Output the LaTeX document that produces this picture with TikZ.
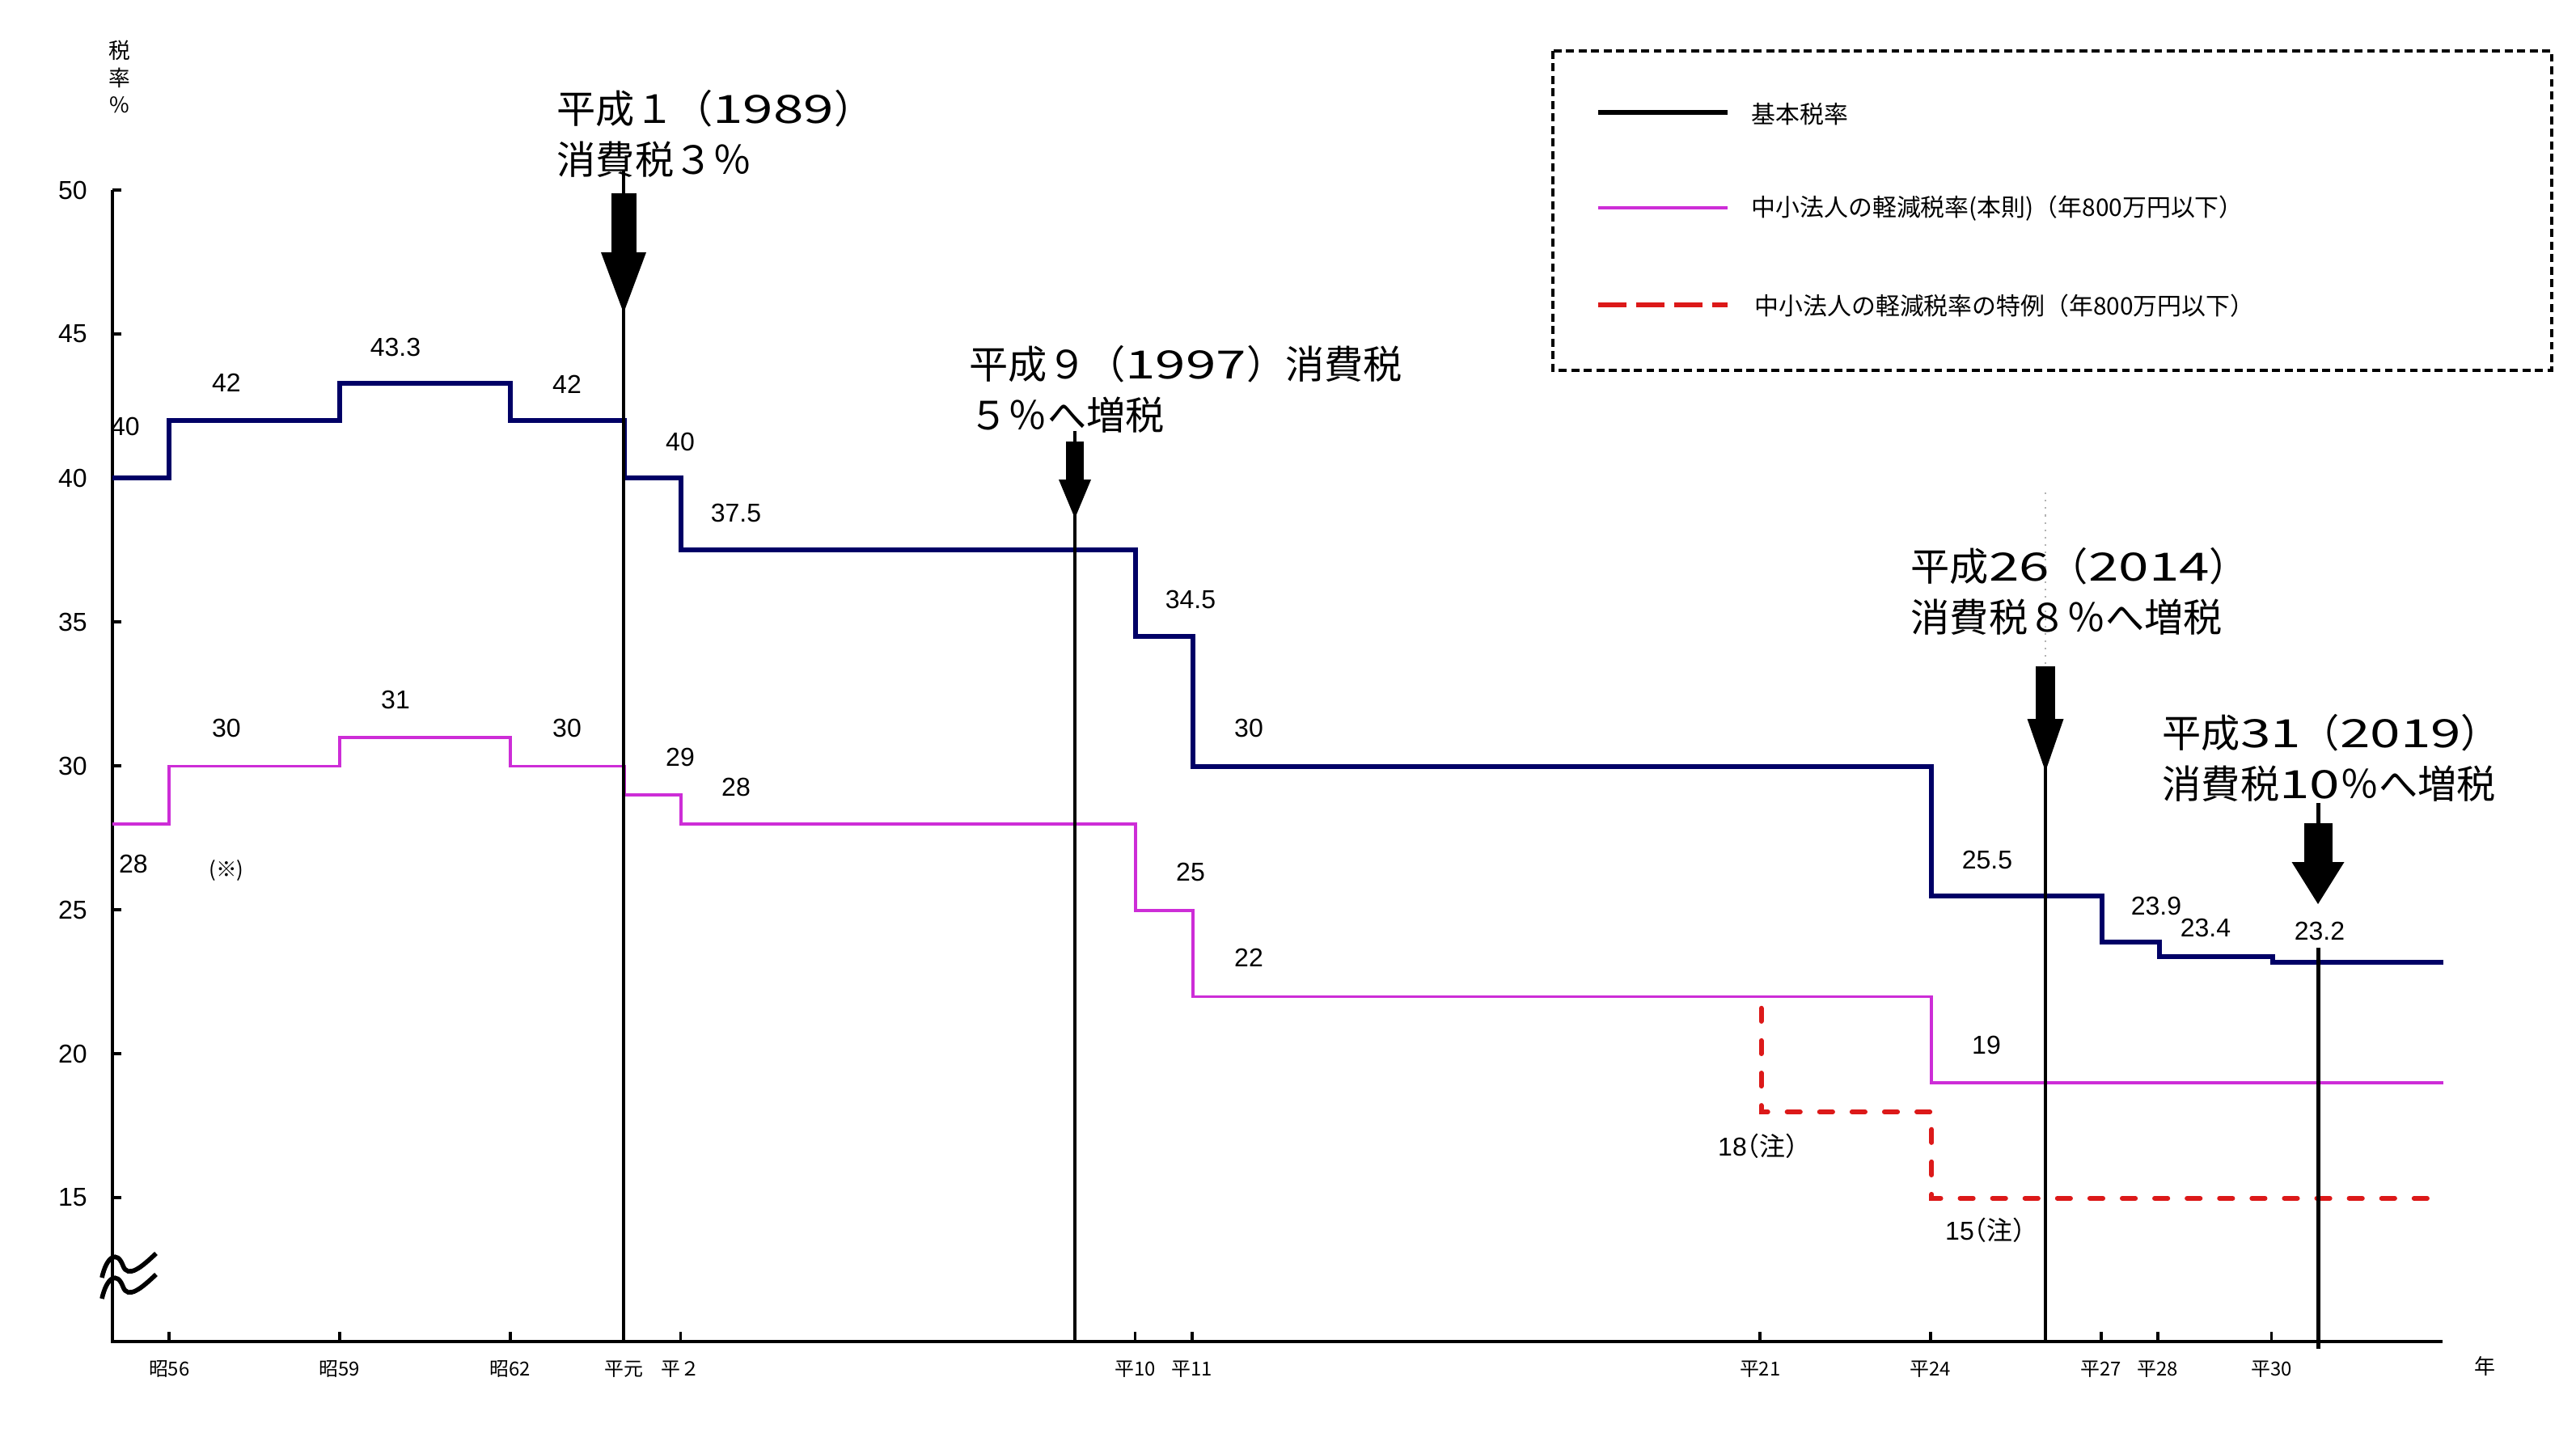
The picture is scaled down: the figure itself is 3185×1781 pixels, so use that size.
\documentclass[tikz,border=0pt]{standalone}
\usepackage{fontspec}
\usepackage{graphicx}
\setmainfont{Liberation Sans}
\newfontfamily\jp{Noto Sans CJK JP}
\newfontfamily\jph{Noto Sans CJK JP}[RawFeature=+halt]
\definecolor{navy}{RGB}{0,0,102}
\definecolor{mag}{RGB}{205,45,215}
\definecolor{rd}{RGB}{220,25,25}
\newcommand\wdig[1]{\scalebox{1.4}[1]{#1}}
\tikzset{
 val/.style={font=\fontsize{9.1}{11}\selectfont, inner sep=0pt},
 ticklab/.style={font=\jp\fontsize{6.8}{8}\selectfont, inner sep=0pt},
 ttl/.style={font=\jp\fontsize{13.7}{17.9}\selectfont, align=left, inner sep=0pt, anchor=west},
 leg/.style={font=\jp\fontsize{8.5}{10}\selectfont, anchor=west, inner sep=0pt},
 basicline/.style={navy, line width=1.7pt},
 smallline/.style={mag, line width=1.1pt},
 specialline/.style={rd, line width=1.7pt, line cap=round, dash pattern=on 4.6pt off 6.8pt},
 axisline/.style={line width=1.1pt},
 vline/.style={line width=1.4pt},
}
\newcommand\taxarrow[6]{%
 \fill (#1-#5/2,#2) rectangle (#1+#5/2,#3);
 \fill (#1-#6/2,#3) -- (#1+#6/2,#3) -- (#1,#4) -- cycle;
}
\begin{document}
\begin{tikzpicture}[x=0.01cm,y=-0.01cm]
\useasboundingbox (0,0) rectangle (3185,1781);
\fill[white] (0,0) rectangle (3185,1781);

% axes
\draw[axisline] (139,235) -- (139,1659) -- (3020,1659);
\foreach \v in {15,20,...,50} {
  \draw[axisline] (139,{235+(50-\v)*35.6}) -- (150,{235+(50-\v)*35.6});
  \node[val] (yl\v) at (90,{235+(50-\v)*35.6}) {\v};
}
\node[font=\jp\fontsize{7.6}{9.6}\selectfont, align=center, inner sep=0pt] (ylab) at (148,95) {税\\率\\\%};

% x ticks
\foreach \yr/\lab in {1981/昭56,1984/昭59,1987/昭62,1989/平元,1990/平２,1998/平10,1999/平11,2009/平21,2012/平24,2015/平27,2016/平28,2018/平30} {
  \draw[axisline] ({139+(\yr-1980)*70.25},1659) -- ({139+(\yr-1980)*70.25},1647);
  \node[ticklab] (xl\yr) at ({139+(\yr-1980)*70.25},1693) {\lab};
}
\node[font=\jp\fontsize{7.4}{9}\selectfont, inner sep=0pt] (nen) at (3072,1690) {年};

% axis break
\draw[line width=1.6pt] (126,1580) .. controls (132,1553) and (145,1546) .. (152,1565) .. controls (158,1582) and (176,1566) .. (193,1550);
\draw[line width=1.6pt] (126,1606) .. controls (132,1579) and (145,1572) .. (152,1591) .. controls (158,1608) and (176,1592) .. (193,1576);

% data
\begin{scope}[shift={(1.39cm,-16.59cm)}, x=0.7025cm, y=0.356cm]
 \draw[smallline] (0,18) -- (1,18) -- (1,20) -- (4,20) -- (4,21) -- (7,21) -- (7,20) -- (9,20) -- (9,19) -- (10,19) -- (10,18) -- (18,18) -- (18,15) -- (19,15) -- (19,12) -- (32,12) -- (32,9) -- (41,9);
 \draw[specialline] (29,11.6) -- (29,8) -- (32,8) -- (32,5) -- (40.8,5);
 \draw[basicline] (0,30) -- (1,30) -- (1,32) -- (4,32) -- (4,33.3) -- (7,33.3) -- (7,32) -- (9,32) -- (9,30) -- (10,30) -- (10,27.5) -- (18,27.5) -- (18,24.5) -- (19,24.5) -- (19,20) -- (32,20) -- (32,15.5) -- (35,15.5) -- (35,13.9) -- (36,13.9) -- (36,13.4) -- (38,13.4) -- (38,13.2) -- (41,13.2);
\end{scope}

% event arrows
\draw[vline] (771,210) -- (771,1659);
\taxarrow{771}{239}{312}{387}{31}{56}
\draw[vline] (1329,533) -- (1329,1659);
\taxarrow{1329}{546}{593}{641}{22}{40}
\draw[gray!60, line width=0.6pt, dotted] (2529,609) -- (2529,824);
\draw[vline] (2529,900) -- (2529,1661);
\taxarrow{2529}{824}{889}{954}{24}{45}
\draw[vline] (2866,993) -- (2866,1020);
\taxarrow{2866}{1018}{1066}{1118}{35}{65}
\draw[vline] (2866,1172) -- (2866,1668);

% titles
\node[ttl] (t1) at (688,165) {平成１（\wdig{1989}）\\消費税３％};
\node[ttl] (t2) at (1198,481) {平成９（\wdig{1997}）消費税\\５％へ増税};
\node[ttl] (t3) at (2362,731) {平成\wdig{26}（\wdig{2014}）\\消費税８％へ増税};
\node[ttl] (t4) at (2673,937) {平成\wdig{31}（\wdig{2019}）\\消費税\wdig{10}％へ増税};

% basic rate labels
\node[val] (b1) at (155,527) {40};
\node[val] (b2) at (280,473) {42};
\node[val] (b3) at (489,429) {43.3};
\node[val] (b4) at (701,475) {42};
\node[val] (b5) at (841,546) {40};
\node[val] (b6) at (910,634) {37.5};
\node[val] (b7) at (1472,741) {34.5};
\node[val] (b8) at (1544,900) {30};
\node[val] (b9) at (2457,1063) {25.5};
\node[val] (b10) at (2666,1120) {23.9};
\node[val] (b11) at (2727,1147) {23.4};
\node[val] (b12) at (2868,1151) {23.2};

% small corp labels
\node[val] (s1) at (165,1068) {28};
\node[font=\jp\fontsize{7.3}{9}\selectfont, inner sep=0pt] (note) at (280,1076) {(※)};
\node[val] (s2) at (280,900) {30};
\node[val] (s3) at (489,865) {31};
\node[val] (s4) at (701,900) {30};
\node[val] (s5) at (841,936) {29};
\node[val] (s6) at (910,973) {28};
\node[val] (s7) at (1472,1078) {25};
\node[val] (s8) at (1544,1184) {22};
\node[val] (s9) at (2456,1292) {19};
\node[val] (r1) at (2174,1417) {18{\jph （注）}};
\node[val] (r2) at (2455,1521) {15{\jph （注）}};

% legend
\draw[line width=0.9pt, dash pattern=on 2.8pt off 1.6pt] (1920,63) rectangle (3155,458);
\coordinate (la1) at (1976,139); \coordinate (lb1) at (2136,139);
\coordinate (la2) at (1976,257); \coordinate (lb2) at (2136,257);
\coordinate (la3) at (1976,377); \coordinate (lb3) at (2136,377);
\draw[black, line width=1.7pt] (la1) -- (lb1);
\draw[smallline] (la2) -- (lb2);
\draw[rd, line width=1.7pt, dash pattern=on 10pt off 3.4pt] (la3) -- (lb3);
\node[leg] (lt1) at (2165,141) {基本税率};
\node[leg] (lt2) at (2165,258) {中小法人の軽減税率(本則)（年800万円以下）};
\node[leg] (lt3) at (2169,378) {中小法人の軽減税率の特例（年800万円以下）};
\end{tikzpicture}
\end{document}
